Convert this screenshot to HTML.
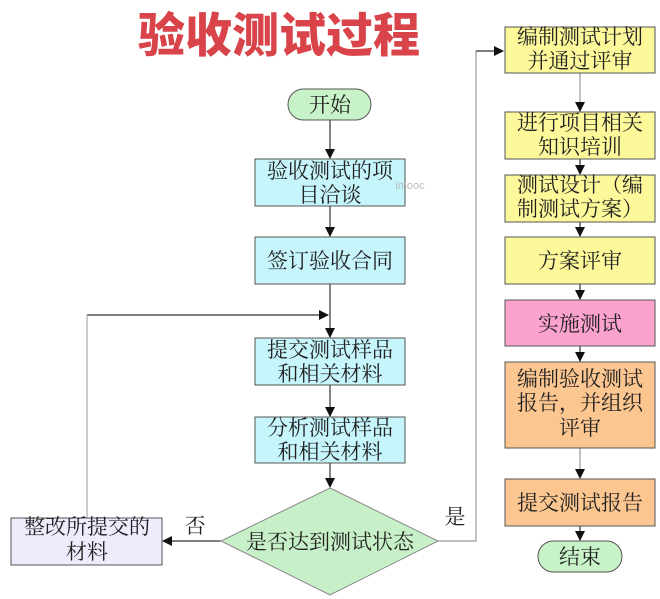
<!DOCTYPE html>
<html><head><meta charset="utf-8"><style>
html,body{margin:0;padding:0;background:#fff;width:660px;height:599px;overflow:hidden}
svg text{font-family:"Liberation Serif","Noto Serif CJK SC",serif;font-size:21px;fill:#222}
</style></head><body>
<svg width="660" height="599" viewBox="0 0 660 599" xmlns="http://www.w3.org/2000/svg">
<defs><marker id="a" markerWidth="10" markerHeight="10" refX="9" refY="5" orient="auto" markerUnits="userSpaceOnUse"><path d="M0,0 L10,5 L0,10 z" fill="#111"/></marker></defs>
<text x="279" y="52" text-anchor="middle" style="font-family:'Liberation Sans','Noto Sans CJK SC',sans-serif;font-size:47px;font-weight:900;fill:#d9444a">验收测试过程</text>
<g stroke="#333" stroke-width="1.2" fill="none">
<line x1="330" y1="120" x2="330" y2="158" marker-end="url(#a)"/>
<line x1="330" y1="206" x2="330" y2="236" marker-end="url(#a)"/>
<line x1="330" y1="284" x2="330" y2="337" marker-end="url(#a)"/>
<line x1="87" y1="315" x2="328" y2="315" marker-end="url(#a)"/>
<line x1="330" y1="385" x2="330" y2="416" marker-end="url(#a)"/>
<line x1="330" y1="463" x2="330" y2="487" marker-end="url(#a)"/>
<line x1="221" y1="541" x2="163" y2="541" marker-end="url(#a)"/>
<line x1="87" y1="518" x2="87" y2="315" stroke="#aaa"/>
<polyline points="438,541 476,541 476,51" stroke="#999"/>
<line x1="476" y1="51" x2="503" y2="51" marker-end="url(#a)"/>
<line x1="580" y1="73" x2="580" y2="111" stroke="#999" marker-end="url(#a)"/>
<line x1="580" y1="159" x2="580" y2="174" marker-end="url(#a)"/>
<line x1="580" y1="222" x2="580" y2="236" marker-end="url(#a)"/>
<line x1="580" y1="284" x2="580" y2="299" marker-end="url(#a)"/>
<line x1="580" y1="346" x2="580" y2="361" marker-end="url(#a)"/>
<line x1="580" y1="448" x2="580" y2="478" stroke="#999" marker-end="url(#a)"/>
<line x1="580" y1="526" x2="580" y2="540" marker-end="url(#a)"/>
</g>
<g stroke="#555" stroke-width="1">
<rect x="288" y="89" width="83" height="31" rx="15.5" fill="#c8f2c8"/>
<rect x="255" y="159" width="150" height="47" fill="#c6f6fc"/>
<rect x="255" y="237" width="150" height="47" fill="#c6f6fc"/>
<rect x="255" y="338" width="150" height="47" fill="#c6f6fc"/>
<rect x="255" y="417" width="150" height="46" fill="#c6f6fc"/>
<polygon points="330,488 438,541 330,595 221,541" fill="#c8f0c8" stroke="#888"/>
<rect x="11" y="518" width="151" height="47" fill="#ececfc"/>
<rect x="505" y="27" width="150" height="46" fill="#fdf99a"/>
<rect x="505" y="112" width="150" height="47" fill="#fdf99a"/>
<rect x="505" y="175" width="150" height="47" fill="#fdf99a"/>
<rect x="505" y="237" width="150" height="47" fill="#fdf99a"/>
<rect x="505" y="300" width="150" height="46" fill="#fca2cf"/>
<rect x="505" y="362" width="150" height="86" fill="#fcc690"/>
<rect x="505" y="479" width="150" height="47" fill="#fcc690"/>
<rect x="538" y="541" width="84" height="31" rx="15.5" fill="#c8f2c8"/>
</g>
<g text-anchor="middle">
<text x="330" y="112">开始</text>
<text x="330" y="178">验收测试的项</text><text x="330" y="202">目洽谈</text>
<text x="330" y="268">签订验收合同</text>
<text x="330" y="357">提交测试样品</text><text x="330" y="381">和相关材料</text>
<text x="330" y="435">分析测试样品</text><text x="330" y="459">和相关材料</text>
<text x="330" y="549">是否达到测试状态</text>
<text x="87" y="534">整改所提交的</text><text x="87" y="559">材料</text>
<text x="195" y="533">否</text>
<text x="455" y="524">是</text>
<text x="580" y="44">编制测试计划</text><text x="580" y="68">并通过评审</text>
<text x="580" y="130">进行项目相关</text><text x="580" y="154">知识培训</text>
<text x="580" y="192">测试设计（编</text><text x="580" y="216">制测试方案）</text>
<text x="580" y="268">方案评审</text>
<text x="580" y="331">实施测试</text>
<text x="580" y="386">编制验收测试</text><text x="580" y="410">报告，并组织</text><text x="580" y="435">评审</text>
<text x="580" y="510">提交测试报告</text>
<text x="580" y="564">结束</text>
<text x="410" y="189" style="font-family:'Liberation Sans',sans-serif;font-size:11px;fill:#bbb">imooc</text>
</g>
</svg>
</body></html>
